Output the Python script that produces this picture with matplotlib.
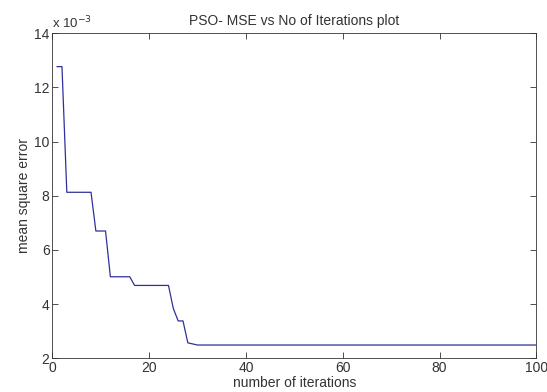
import numpy as np
import matplotlib
matplotlib.use("Agg")
import matplotlib.pyplot as plt
from matplotlib.ticker import FuncFormatter

# points where the best MSE changes, in units of 1e-3
iterations = [1, 2, 3, 8, 9, 11, 12, 16, 17, 24, 25, 26, 27, 28, 29, 30, 100]
mse_e3 = [12.77, 12.77, 8.13, 8.13, 6.70, 6.70, 5.01, 5.01, 4.69, 4.69,
          3.84, 3.38, 3.38, 2.57, 2.53, 2.49, 2.49]
mse = np.array(mse_e3) * 1e-3

x_ticks = [0, 20, 40, 60, 80, 100]
y_ticks = np.array([2, 4, 6, 8, 10, 12, 14]) * 1e-3

plt.rcParams['font.family'] = ['Liberation Sans', 'DejaVu Sans']

fig = plt.figure(figsize=(5.47, 3.92), dpi=100)
ax = fig.add_axes([0.0956, 0.086, 0.885, 0.829])

ax.plot(iterations, mse, color='#30309c', linewidth=0.9)

ax.set_xlim(0, 100)
ax.set_ylim(2e-3, 14e-3)
ax.set_xticks(x_ticks)
ax.set_yticks(y_ticks)
ax.yaxis.set_major_formatter(FuncFormatter(lambda v, p: '%d' % round(v * 1e3)))

ax.tick_params(direction='in', top=True, right=True, length=4, width=0.6,
               labelsize=10, colors='#333333', pad=2)
for s in ax.spines.values():
    s.set_linewidth(0.6)
    s.set_color('#333333')

ax.text(0.0, 1.005, r'x 10$^{-3}$', transform=ax.transAxes, fontsize=9.5,
        ha='left', va='bottom', color='#333333')
ax.set_title('PSO- MSE vs No of Iterations plot', fontsize=10, color='#333333', pad=6)
ax.set_xlabel('number of iterations', fontsize=10, color='#333333', labelpad=1)
ax.set_ylabel('mean square error', fontsize=10, color='#333333', labelpad=2)

fig.savefig('out.png', dpi=100)
